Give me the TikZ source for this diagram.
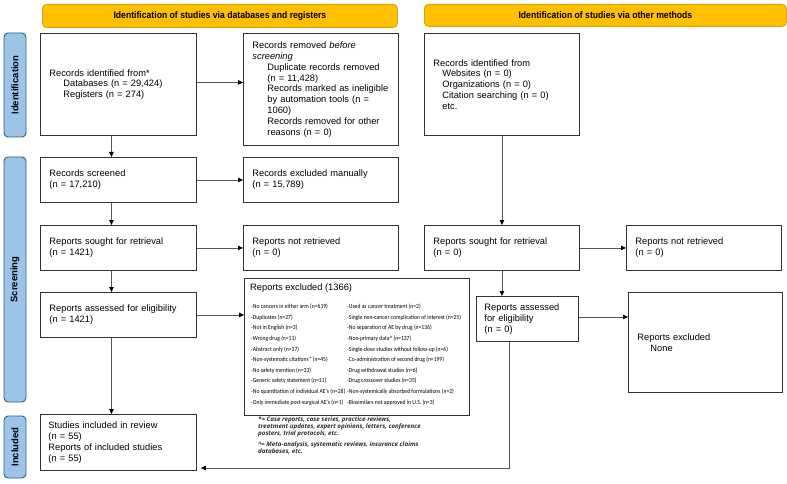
\documentclass[tikz,border=0pt]{standalone}
\usepackage{fontspec}
\setmainfont{Liberation Sans}
\newfontfamily\narrowfont[FakeStretch=0.9]{Carlito}
\newfontfamily\headfont[FakeStretch=0.9]{Liberation Sans}
\newfontfamily\notefont{Open Sans}
\usetikzlibrary{arrows.meta,calc}
\definecolor{hdrfill}{HTML}{FFC000}
\definecolor{hdrdraw}{HTML}{D9A400}
\definecolor{sidefill}{HTML}{9DC3E6}
\definecolor{sidedraw}{HTML}{2F5E8C}
\definecolor{linegray}{HTML}{555555}
\definecolor{boxdraw}{HTML}{333333}
\definecolor{notecol}{HTML}{2A2A2A}
\newcommand{\ind}[1]{\hspace*{#1pt}}
\begin{document}
\begin{tikzpicture}[x=1pt,y=-1pt,
  txt/.style={font=\fontsize{9.3}{10.8}\selectfont},
  pb/.style={draw=boxdraw,line width=0.9pt,anchor=north west,inner xsep=9pt,inner ysep=0pt,align=left,txt},
  hdr/.style={draw=hdrdraw,fill=hdrfill,line width=0.8pt,rounded corners=4pt,anchor=north west,inner sep=0pt,font=\headfont\bfseries\fontsize{9.6}{11}\selectfont},
  side/.style={draw=sidedraw,fill=sidefill,line width=0.9pt,rounded corners=4pt,rotate=90,inner sep=0pt,minimum height=22pt,font=\bfseries\fontsize{9.5}{11}\selectfont},
  arr/.style={draw=linegray,line width=0.8pt,-{Triangle[length=5pt,width=4.5pt,black]}},
  lst/.style={anchor=west,inner sep=0pt,font=\narrowfont\fontsize{6.25}{8}\selectfont}
]
\useasboundingbox (0,0) rectangle (787,484);

% headers
\node[hdr,minimum width=355pt,minimum height=23pt] (h1) at (42,4) {Identification of studies via databases and registers};
\node[hdr,minimum width=362pt,minimum height=22pt] (h2) at (424,4) {Identification of studies via other methods};

% side labels
\node[side,minimum width=104pt] (s1) at (15,85) {Identification};
\node[side,minimum width=245pt] (s2) at (15,279.5) {Screening};
\node[side,minimum width=62pt] (s3) at (15,447) {Included};

% boxes
\node[pb,minimum width=156pt,minimum height=102pt,text width=138pt] (A) at (40,33)
 {Records identified from*\\ \ind{14}Databases (n = 29,424)\\ \ind{14}Registers (n = 274)};
\node[pb,minimum width=155pt,minimum height=112pt,text width=137pt] (B) at (243,33)
 {Records removed \textit{before}\\ \textit{screening}\\
  \ind{15}Duplicate records removed\\ \ind{15}(n = 11,428)\\
  \ind{15}Records marked as ineligible\\ \ind{15}by automation tools (n =\\ \ind{15}1060)\\
  \ind{15}Records removed for other\\ \ind{15}reasons (n = 0)};
\node[pb,minimum width=155pt,minimum height=102pt,text width=137pt] (C) at (424,33)
 {Records identified from\\ \ind{9}Websites (n = 0)\\ \ind{9}Organizations (n = 0)\\ \ind{9}Citation searching (n = 0)\\ \ind{9}etc.};

\node[pb,minimum width=156pt,minimum height=45pt,text width=138pt] (D) at (40,157) {Records screened\\(n = 17,210)};
\node[pb,minimum width=155pt,minimum height=45pt,text width=137pt] (E) at (243,157) {Records excluded manually\\(n = 15,789)};
\node[pb,minimum width=156pt,minimum height=45pt,text width=138pt] (F) at (40,225) {Reports sought for retrieval\\(n = 1421)};
\node[pb,minimum width=155pt,minimum height=45pt,text width=137pt] (G) at (243,225) {Reports not retrieved\\(n = 0)};
\node[pb,minimum width=155pt,minimum height=45pt,text width=137pt] (H) at (424,225) {Reports sought for retrieval\\(n = 0)};
\node[pb,minimum width=155pt,minimum height=45pt,text width=137pt] (I) at (626,225) {Reports not retrieved\\(n = 0)};
\node[pb,minimum width=156pt,minimum height=45pt,text width=138pt] (J) at (40,292) {Reports assessed for eligibility\\(n = 1421)};
\node[pb,minimum width=102pt,minimum height=45pt,text width=86pt,inner xsep=8pt] (L) at (476,296) {Reports assessed\\for eligibility\\(n = 0)};
\node[pb,minimum width=154pt,minimum height=100pt,text width=136pt] (M) at (628,292) {Reports excluded\\ \ind{13}None};
\node[pb,minimum width=156pt,minimum height=56pt,text width=140pt,inner xsep=8pt] (N) at (40,414)
 {Studies included in review\\(n = 55)\\Reports of included studies\\(n = 55)};

% reports excluded box
\node[draw=boxdraw,line width=0.9pt,anchor=north west,minimum width=225pt,minimum height=137pt,inner sep=0pt] (K) at (244,278) {};
\node[anchor=west,inner sep=0pt,txt] (Kt) at (250,288) {Reports excluded (1366)};
\foreach \t [count=\i] in {{-No cancers in either arm (n=619)},{-Duplicates (n=27)},{-Not in English (n=3)},{-Wrong drug (n=11)},{-Abstract only (n=37)},{-Non-systematic citations* (n=45)},{-No safety mention (n=33)},{-Generic safety statement (n=11)},{-No quantitation of individual AE's (n=28)},{-Only immediate post-surgical AE's (n=1)}}
  \node[lst] (ka\i) at (251,{307+(\i-1)*10.6}) {\t};
\foreach \t [count=\i] in {{-Used as cancer treatment (n=2)},{-Single non-cancer complication of interest (n=25)},{-No separation of AE by drug (n=136)},{-Non-primary data\textasciicircum\ (n=137)},{-Single-dose studies without follow-up (n=6)},{-Co-administration of second drug (n=199)},{-Drug withdrawal studies (n=6)},{-Drug crossover studies (n=35)},{-Non-systemically absorbed formulations (n=2)},{-Biosimilars not approved in U.S. (n=3)}}
  \node[lst] (kb\i) at (347,{307+(\i-1)*10.6}) {\t};

% footnote
\node[anchor=north west,inner sep=0pt,align=left,text=notecol,font=\notefont\bfseries\itshape\fontsize{6.2}{7}\selectfont] (fn) at (258,417)
 {*= Case reports, case series, practice reviews,\\ treatment updates, expert opinions, letters, conference\\ posters, trial protocols, etc.\\[4pt]
  \textasciicircum= Meta-analysis, systematic reviews, insurance claims\\ databases, etc.};

% connectors
\draw[arr] ([yshift=2pt]A.east) -- ([yshift=2pt]A.east -| B.west);
\draw[arr] ([xshift=-7pt]A.south) -- ([xshift=-7pt]A.south |- D.north);
\draw[arr] (D.east) -- (E.west);
\draw[arr] ([xshift=-7pt]D.south) -- ([xshift=-7pt]D.south |- F.north);
\draw[arr] (F.east) -- (G.west);
\draw[arr] ([xshift=-7pt]F.south) -- ([xshift=-7pt]F.south |- J.north);
\draw[arr] (J.east) -- (J.east -| K.west);
\draw[arr] ([xshift=-7pt]J.south) -- ([xshift=-7pt]J.south |- N.north);
\draw[arr] (C.south) -- (H.north);
\draw[arr] (H.east) -- (I.west);
\draw[arr] (H.south) -- (H.south |- L.north);
\draw[arr] ([yshift=2pt]L.east) -- ([yshift=2pt]L.east -| M.west);
\coordinate (lc) at ([xshift=-18pt]L.south |- 0,468);
\draw[arr,shorten >=4pt] ([xshift=-18pt]L.south) -- (lc) -- (lc -| N.east);
\end{tikzpicture}
\end{document}
